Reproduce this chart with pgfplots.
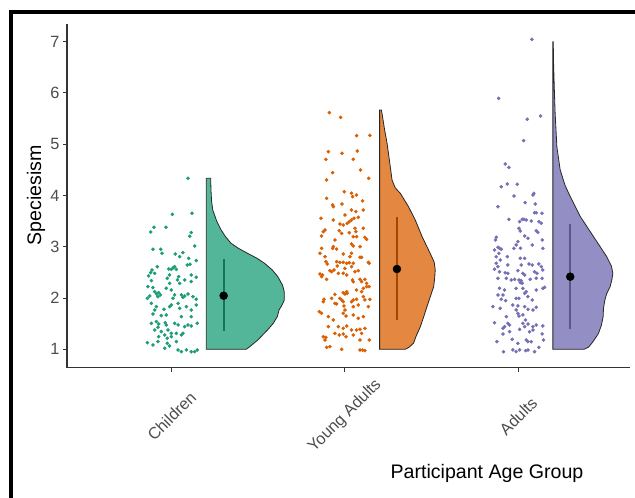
\documentclass[border=0pt]{standalone}
\usepackage{pgfplots}
\pgfplotsset{compat=1.18}
\usepackage{fontspec}
\setmainfont{Liberation Sans}
\definecolor{dgreen}{RGB}{27,158,119}
\definecolor{dorange}{RGB}{217,95,2}
\definecolor{dpurple}{RGB}{117,112,179}
\definecolor{axgray}{RGB}{51,51,51}
\definecolor{tickgray}{RGB}{77,77,77}
\begin{document}
\begin{tikzpicture}
\useasboundingbox (-67bp,-130.3bp) rectangle (568bp,367.7bp);
\begin{axis}[
  scale only axis, width=563bp, height=343.7bp,
  xmin=0.396, xmax=3.645, ymin=0.641, ymax=7.345,
  axis lines*=left,
  axis line style={axgray, line width=1.2bp},
  xtick={1,2,3}, xticklabels={Children,Young Adults,Adults},
  ytick={1,2,3,4,5,6,7},
  tick align=outside, major tick length=4bp,
  tick style={axgray, line width=1bp},
  /pgf/number format/assume math mode=true,
  ticklabel style={font=\fontsize{16.3bp}{19bp}\selectfont, text=tickgray},
  xticklabel style={anchor=center, yshift=-44.5bp, rotate=45},
  xlabel={Participant Age Group},
  label style={font=\fontsize{19.6bp}{23bp}\selectfont, text=black},
  xlabel style={at={(axis description cs:0.746,0)}, anchor=center, yshift=-105.5bp},
  clip=false,
]
% jittered points
\addplot[only marks, mark=*, mark size=1.6bp, mark options={draw=dgreen, fill=dgreen}] table {
x y
1.094 4.335
1.004 3.633
1.117 3.653
0.898 3.380
0.879 3.289
0.967 3.380
1.113 3.276
1.104 3.204
1.133 3.016
0.892 2.951
0.937 2.951
0.944 2.873
1.021 2.860
1.065 2.886
1.046 2.808
1.098 2.775
1.142 2.730
1.090 2.645
1.106 2.658
0.917 2.612
0.887 2.547
0.879 2.495
0.867 2.430
0.902 2.482
0.983 2.567
0.998 2.560
1.010 2.593
1.017 2.612
1.027 2.560
0.988 2.450
1.040 2.417
1.033 2.352
1.046 2.287
1.075 2.352
1.113 2.450
1.113 2.320
1.142 2.404
0.883 2.339
0.863 2.222
0.892 2.203
0.975 2.385
0.988 2.287
0.969 2.190
0.902 2.125
0.912 2.079
0.925 2.105
0.935 2.060
0.921 2.027
0.873 2.040
0.860 1.995
0.998 2.157
1.017 2.060
1.008 1.995
1.056 2.060
1.065 2.014
1.075 2.040
1.094 2.079
1.123 2.027
1.142 1.975
0.883 1.897
0.912 1.832
0.902 1.767
0.956 1.780
0.988 1.832
0.998 1.865
1.037 1.897
1.046 1.800
1.085 1.832
1.113 1.767
1.142 1.865
0.892 1.689
0.940 1.657
0.969 1.670
1.056 1.637
1.113 1.637
0.883 1.507
0.912 1.540
0.925 1.494
0.963 1.520
0.969 1.475
0.921 1.429
1.017 1.507
1.037 1.475
1.075 1.442
1.094 1.475
1.113 1.455
1.148 1.507
0.902 1.377
0.940 1.345
0.979 1.377
0.998 1.312
1.027 1.312
1.056 1.280
1.065 1.312
0.925 1.247
0.960 1.280
0.975 1.215
0.998 1.247
0.860 1.130
0.892 1.085
0.921 1.150
0.975 1.117
0.988 1.065
1.027 1.150
1.037 0.987
1.056 0.954
1.085 0.987
1.113 0.954
1.133 0.954
1.148 0.987
0.960 1.020
};
\addplot[only marks, mark=*, mark size=1.6bp, mark options={draw=dorange, fill=dorange}] table {
x y
1.910 5.616
1.975 5.525
2.067 5.167
2.144 5.174
1.904 4.855
1.983 4.822
2.071 4.868
1.890 4.705
2.048 4.705
2.090 4.497
1.929 4.445
2.137 4.335
1.894 4.303
1.996 4.075
2.038 4.043
2.044 3.977
2.067 4.010
1.894 3.945
2.102 3.893
1.929 3.815
1.933 3.782
1.983 3.834
2.038 3.717
2.063 3.685
2.106 3.717
2.000 3.620
2.077 3.574
2.052 3.555
2.038 3.522
2.025 3.490
2.013 3.457
1.862 3.555
1.933 3.522
1.971 3.444
1.990 3.425
1.967 3.314
1.885 3.327
1.875 3.294
2.058 3.360
2.063 3.294
2.106 3.360
1.865 3.210
1.981 3.262
2.025 3.275
2.048 3.197
2.067 3.197
2.115 3.184
2.125 3.145
1.942 3.132
2.038 3.054
2.048 3.015
2.087 3.002
1.933 3.002
1.929 2.969
1.865 2.969
1.952 2.956
1.856 2.872
1.885 2.807
1.990 2.859
2.038 2.872
2.029 2.807
2.087 2.794
2.096 2.794
1.890 2.709
1.898 2.664
1.952 2.709
1.971 2.696
1.990 2.696
2.010 2.677
2.025 2.690
2.048 2.677
2.135 2.696
2.140 2.677
1.956 2.625
2.038 2.612
2.000 2.579
1.937 2.547
1.923 2.514
1.913 2.534
1.962 2.482
1.856 2.469
1.871 2.449
1.865 2.417
1.894 2.365
1.990 2.482
2.010 2.449
2.058 2.514
2.077 2.534
2.087 2.365
2.096 2.319
2.115 2.365
2.125 2.287
2.048 2.319
2.044 2.352
2.125 2.222
2.140 2.222
2.106 2.189
2.067 2.156
2.010 2.124
1.990 2.104
2.000 2.079
2.013 2.092
1.942 2.072
1.879 1.975
1.875 1.929
1.923 1.994
1.971 1.994
1.981 1.962
1.990 1.929
2.038 1.929
2.048 1.962
2.067 1.975
2.106 2.027
2.115 1.962
2.096 2.124
1.994 1.845
2.000 1.767
1.990 1.702
2.048 1.832
2.077 1.864
2.135 1.832
2.144 1.975
1.942 1.897
1.952 1.884
1.852 1.734
1.865 1.702
1.904 1.637
1.933 1.572
2.006 1.650
2.048 1.669
2.077 1.604
2.106 1.637
1.904 1.442
1.962 1.442
1.990 1.409
2.010 1.455
2.038 1.377
2.067 1.377
2.087 1.390
2.115 1.409
1.875 1.246
1.890 1.233
1.885 1.181
1.942 1.312
1.967 1.279
1.990 1.299
2.006 1.246
2.048 1.279
2.096 1.312
2.087 1.181
2.140 1.181
1.913 1.051
1.894 1.038
1.981 0.999
2.087 0.986
2.102 0.986
2.115 0.973
};
\addplot[only marks, mark=*, mark size=1.6bp, mark options={draw=dpurple, fill=dpurple}] table {
x y
3.079 7.046
2.887 5.895
3.052 5.486
3.129 5.551
3.031 5.070
2.925 4.615
2.946 4.550
2.902 4.172
2.937 4.225
2.994 4.218
2.975 3.990
3.090 4.042
3.085 4.010
2.883 3.782
3.040 3.860
3.098 3.834
2.946 3.535
3.094 3.665
3.104 3.665
3.137 3.652
3.008 3.490
3.023 3.535
3.033 3.535
3.046 3.522
3.075 3.502
3.119 3.490
3.133 3.457
3.004 3.360
3.012 3.307
3.104 3.314
3.113 3.282
3.037 3.210
3.056 3.165
2.873 3.184
2.869 3.132
2.998 3.100
2.988 3.035
2.975 2.969
3.013 2.969
3.081 3.035
3.138 3.132
3.142 2.969
2.863 2.937
2.883 2.989
2.892 2.969
2.902 2.950
2.888 2.872
2.873 2.807
2.896 2.742
2.937 2.807
3.012 2.775
3.037 2.775
2.873 2.677
2.883 2.612
2.863 2.560
2.940 2.645
3.017 2.645
3.062 2.664
3.081 2.645
3.119 2.664
3.142 2.547
3.133 2.612
2.892 2.514
2.925 2.495
2.940 2.482
2.998 2.534
3.027 2.482
3.037 2.449
3.094 2.514
3.108 2.482
2.883 2.384
2.931 2.384
2.960 2.352
2.979 2.365
3.004 2.352
3.017 2.339
3.012 2.300
3.023 2.287
3.069 2.365
3.104 2.384
3.138 2.384
2.892 2.189
2.921 2.157
2.988 2.189
3.027 2.189
3.037 2.092
3.046 2.124
3.056 2.027
3.104 2.157
3.142 2.189
3.152 2.209
2.883 2.059
2.912 2.059
2.902 1.975
2.927 1.949
2.988 1.994
3.004 1.994
3.081 1.962
2.854 1.832
2.896 1.799
2.969 1.864
2.998 1.845
2.988 1.767
3.037 1.832
3.056 1.780
3.085 1.767
3.104 1.819
2.998 1.702
3.004 1.650
3.027 1.670
2.931 1.637
3.042 1.572
2.863 1.520
2.921 1.442
2.940 1.507
2.950 1.474
2.912 1.409
3.027 1.507
3.037 1.442
3.056 1.494
3.085 1.442
3.104 1.474
3.142 1.455
2.912 1.299
2.950 1.344
3.008 1.390
3.065 1.344
3.085 1.377
3.138 1.299
2.877 1.149
2.965 1.195
2.998 1.117
3.046 1.182
3.056 1.149
3.075 1.149
3.146 1.182
2.915 0.954
2.969 0.987
2.988 0.954
3.008 0.987
3.042 0.974
3.056 0.987
3.094 0.954
3.119 1.038
};
% error lines (under the half violins)
\addplot[black, line width=1.8bp] coordinates {(1.3,1.357) (1.3,2.755)};
\addplot[black, line width=1.8bp] coordinates {(2.3,1.570) (2.3,3.575)};
\addplot[black, line width=1.8bp] coordinates {(3.3,1.390) (3.3,3.440)};
% half violins
\addplot[draw=black!85, line width=0.8bp, fill=dgreen, fill opacity=0.75] coordinates {
(1.2,1.0) (1.2,4.335) (1.225,4.335) (1.227,4.1) (1.23,3.9) (1.237,3.72) (1.26,3.5)
(1.285,3.33) (1.31,3.2) (1.342,3.07) (1.385,2.97) (1.439,2.87) (1.49,2.78) (1.535,2.68)
(1.58,2.55) (1.612,2.42) (1.64,2.25) (1.65,2.12) (1.65,1.96) (1.635,1.85) (1.62,1.77)
(1.61,1.64) (1.585,1.5) (1.554,1.38) (1.497,1.18) (1.439,1.02) (1.43,1.0)} -- cycle;
\addplot[draw=black!85, line width=0.8bp, fill=dorange, fill opacity=0.75] coordinates {
(2.2,1.0) (2.2,5.667) (2.21,5.667) (2.214,5.6) (2.228,5.3) (2.243,5.02) (2.258,4.65)
(2.272,4.3) (2.29,4.15) (2.32,4.04) (2.367,3.78) (2.406,3.52) (2.445,3.2) (2.492,2.87)
(2.515,2.7) (2.521,2.55) (2.518,2.4) (2.512,2.22) (2.49,2.0) (2.473,1.83) (2.455,1.64)
(2.435,1.44) (2.41,1.25) (2.396,1.12) (2.37,1.04) (2.348,1.0)} -- cycle;
\addplot[draw=black!85, line width=0.8bp, fill=dpurple, fill opacity=0.78] coordinates {
(3.2,1.0) (3.2,7.0) (3.202,7.0) (3.204,6.58) (3.208,6.1) (3.213,5.6) (3.223,4.95)
(3.242,4.5) (3.27,4.2) (3.3,3.98) (3.358,3.59) (3.434,3.2) (3.51,2.81) (3.538,2.62)
(3.546,2.48) (3.54,2.35) (3.53,2.22) (3.51,2.08) (3.5,1.96) (3.492,1.8) (3.49,1.64)
(3.48,1.47) (3.463,1.31) (3.44,1.19) (3.425,1.12) (3.405,1.04) (3.38,1.0)} -- cycle;
% means
\addplot[only marks, mark=*, mark size=4bp, mark options={draw=black, fill=black}] coordinates {
(1.3,2.045) (2.3,2.566) (3.3,2.416)};
\end{axis}
\node[rotate=90, font=\fontsize{19.6bp}{23bp}\selectfont] at (-31bp,172.7bp) {Speciesism};
\draw[line width=4bp, black] (-56bp,-140bp) -- (-56bp,355.7bp) -- (580bp,355.7bp);
\end{tikzpicture}
\end{document}
